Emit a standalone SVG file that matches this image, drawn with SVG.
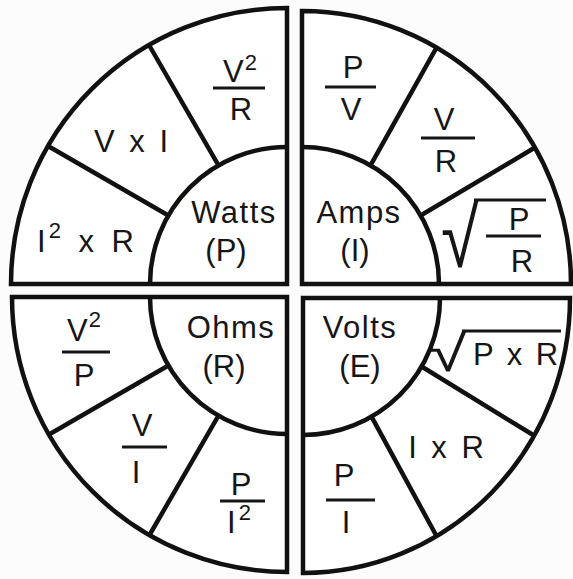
<svg xmlns="http://www.w3.org/2000/svg" width="573" height="579" viewBox="0 0 573 579">
<style>
.q{fill:#fff;stroke:#111;stroke-width:4.5;stroke-linejoin:miter}
.d{fill:none;stroke:#111;stroke-width:4.5}
.t{font-family:"Liberation Sans",Arial,sans-serif;font-size:31px;fill:#161616;text-anchor:middle}
.s{text-anchor:start}
.sup{font-size:22px}
.bar{stroke:#161616;stroke-width:3}
.rad{font-family:"Liberation Sans",Arial,sans-serif;font-size:64px;fill:#161616}
</style>
<rect width="573" height="579" fill="#fcfcfc"/>

<g id="watts">
  <path class="q" d="M287,8 A276,276 0 0 0 11,284 L287,284 Z"/>
  <path class="d" d="M287,147 A137,137 0 0 0 150,284 M168.4,215.5 L48,146 M218.5,165.4 L149,45"/>
  <g id="watts-center"><text class="t" x="234" y="223" letter-spacing="1.5">Watts</text><text class="t" x="226" y="261">(P)</text></g>
  <g id="watts-v2r"><text class="t" x="240" y="82">V<tspan class="sup" dx="1" dy="-12">2</tspan></text><line class="bar" x1="213" y1="88" x2="265" y2="88"/><text class="t" x="241" y="120">R</text></g>
  <g id="watts-vi"><text class="t" x="131" y="152" word-spacing="6">V x I</text></g>
  <g id="watts-i2r"><text class="t s" x="37" y="252">I<tspan class="sup" dx="3" dy="-14">2</tspan><tspan dy="14" word-spacing="9"> x R</tspan></text></g>
</g>

<g id="amps">
  <path class="q" d="M302,11 A269,273 0 0 1 571,284 L302,284 Z"/>
  <path class="d" d="M302,147 A137,137 0 0 1 439,284 M370.5,165.4 L436.5,47.6 M420.6,215.5 L535,147.5"/>
  <g id="amps-center"><text class="t" x="359" y="223" letter-spacing="1.5">Amps</text><text class="t" x="355" y="261">(I)</text></g>
  <g id="amps-pv"><text class="t" x="353" y="78">P</text><line class="bar" x1="325" y1="87" x2="376" y2="87"/><text class="t" x="351" y="120">V</text></g>
  <g id="amps-vr"><text class="t" x="444" y="130">V</text><line class="bar" x1="421" y1="138" x2="475" y2="138"/><text class="t" x="446" y="172">R</text></g>
  <g id="amps-sqrt"><text class="rad" transform="translate(441,267) scale(1.07,1.31)">√</text><line class="bar" x1="474" y1="200" x2="546" y2="200"/><text class="t" x="519" y="230">P</text><line class="bar" x1="486" y1="236" x2="541" y2="236"/><text class="t" x="522" y="272">R</text></g>
</g>

<g id="ohms">
  <path class="q" d="M12,297 A275,275 0 0 0 287,572 L287,297 Z"/>
  <path class="d" d="M150,297 A137,137 0 0 0 287,434 M168.4,365.5 L49,434.5 M218.5,415.6 L149.5,535"/>
  <g id="ohms-center"><text class="t" x="231" y="338" letter-spacing="1.5">Ohms</text><text class="t" x="224" y="377">(R)</text></g>
  <g id="ohms-v2p"><text class="t" x="84" y="341">V<tspan class="sup" dx="1" dy="-14">2</tspan></text><line class="bar" x1="62" y1="352" x2="110" y2="352"/><text class="t" x="84" y="386">P</text></g>
  <g id="ohms-vi"><text class="t" x="142" y="436">V</text><line class="bar" x1="122" y1="447" x2="167" y2="447"/><text class="t" x="136" y="483">I</text></g>
  <g id="ohms-pi2"><text class="t" x="241" y="495">P</text><line class="bar" x1="220" y1="501" x2="265" y2="501"/><text class="t" x="239" y="533">I<tspan class="sup" dx="3" dy="-13">2</tspan></text></g>
</g>

<g id="volts">
  <path class="q" d="M303,298 L570,298 A267,275 0 0 1 303,573 Z"/>
  <path class="d" d="M440,298 A137,137 0 0 1 303,435 M421.6,366.5 L534,435.5 M371.5,416.6 L436.5,536"/>
  <g id="volts-center"><text class="t" x="360" y="338" letter-spacing="1.5">Volts</text><text class="t" x="360" y="377">(E)</text></g>
  <g id="volts-sqrt"><text class="rad" transform="translate(429,371) scale(1.07,0.8)">√</text><line class="bar" x1="462" y1="331" x2="561" y2="331"/><text class="t s" x="473" y="365" word-spacing="5">P x R</text></g>
  <g id="volts-ir"><text class="t" x="446" y="458" word-spacing="6">I x R</text></g>
  <g id="volts-pi"><text class="t" x="344" y="486">P</text><line class="bar" x1="326" y1="500" x2="375" y2="500"/><text class="t" x="346" y="533">I</text></g>
</g>
</svg>
